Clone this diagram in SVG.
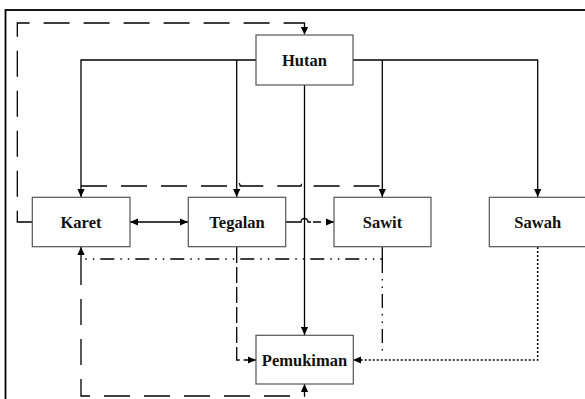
<svg xmlns="http://www.w3.org/2000/svg" width="585" height="399" viewBox="0 0 585 399">
<style>
.box{fill:#fff;stroke:#555;stroke-width:1.2}
.lbl{font-family:"Liberation Serif","Times New Roman",serif;font-weight:bold;font-size:16.5px;text-anchor:middle;fill:#111}
.c{fill:none;stroke:#000;stroke-width:1.3}
.ld{stroke-dasharray:26 14}
.md{stroke-dasharray:16 4}
.sd{stroke-dasharray:8 5}
.dd{stroke-dasharray:14 6 1.5 6 1.5 6}
.dot{stroke-dasharray:2 2;stroke-width:1.5}
</style>
<defs>
<marker id="ah" viewBox="0 0 10 10" refX="10" refY="5" markerWidth="9" markerHeight="8" markerUnits="userSpaceOnUse" orient="auto-start-reverse">
<path d="M0,0.5 L10,5 L0,9.5 Z" fill="#000"/>
</marker>
</defs>
<rect x="5.5" y="10" width="590" height="400" fill="#fff" stroke="#000" stroke-width="1.8"/>
<g id="connectors">
<path class="c" d="M256,60 H81 V197" marker-end="url(#ah)"/>
<path class="c" d="M236.7,60 V197" marker-end="url(#ah)"/>
<path class="c" d="M353,60 H537.7 V197" marker-end="url(#ah)"/>
<path class="c" d="M382.3,60 V197" marker-end="url(#ah)"/>
<path class="c" d="M304.5,85 V335" marker-end="url(#ah)"/>
<path class="c ld" d="M32,222 H17.3 V23 H304.5 V35" marker-end="url(#ah)"/>
<path class="c ld" d="M81,186 H233.2 A3.5,3.5 0 0 1 240.2,186 H301 A3.5,3.5 0 0 1 308,186 H382.3"/>
<path class="c" d="M130,222 H188" marker-start="url(#ah)" marker-end="url(#ah)"/>
<path class="c" d="M285.7,222 H301 A3.5,3.5 0 0 1 308,222 H311"/>
<path class="c sd" d="M313,222 H334" marker-end="url(#ah)"/>
<path class="c dd" d="M382.3,247 V259 H81"/>
<path class="c dd" d="M382.3,259 V356"/>
<path class="c ld" d="M81,259 V247" marker-end="url(#ah)"/>
<path class="c ld" d="M81,259 V396 H304.5 V384" marker-end="url(#ah)"/>
<path class="c md" d="M236.7,247 V360 H256" marker-end="url(#ah)"/>
<path class="c dot" d="M537.7,247 V360 H353" marker-end="url(#ah)"/>
</g>
<g id="hutan"><rect class="box" x="256" y="35" width="97" height="50"/><text class="lbl" x="304.5" y="65.5">Hutan</text></g>
<g id="karet"><rect class="box" x="32.3" y="197.3" width="97.7" height="49.4"/><text class="lbl" x="81" y="227.5">Karet</text></g>
<g id="tegalan"><rect class="box" x="188.3" y="197.3" width="97.4" height="49.4"/><text class="lbl" x="237" y="227.5">Tegalan</text></g>
<g id="sawit"><rect class="box" x="334" y="197.3" width="97" height="49.4"/><text class="lbl" x="382.5" y="227.5">Sawit</text></g>
<g id="sawah"><rect class="box" x="489.3" y="197.3" width="97" height="49.4"/><text class="lbl" x="537.7" y="227.5">Sawah</text></g>
<g id="pemukiman"><rect class="box" x="256" y="335.3" width="97.3" height="48.7"/><text class="lbl" x="304.5" y="365.5">Pemukiman</text></g>
</svg>
